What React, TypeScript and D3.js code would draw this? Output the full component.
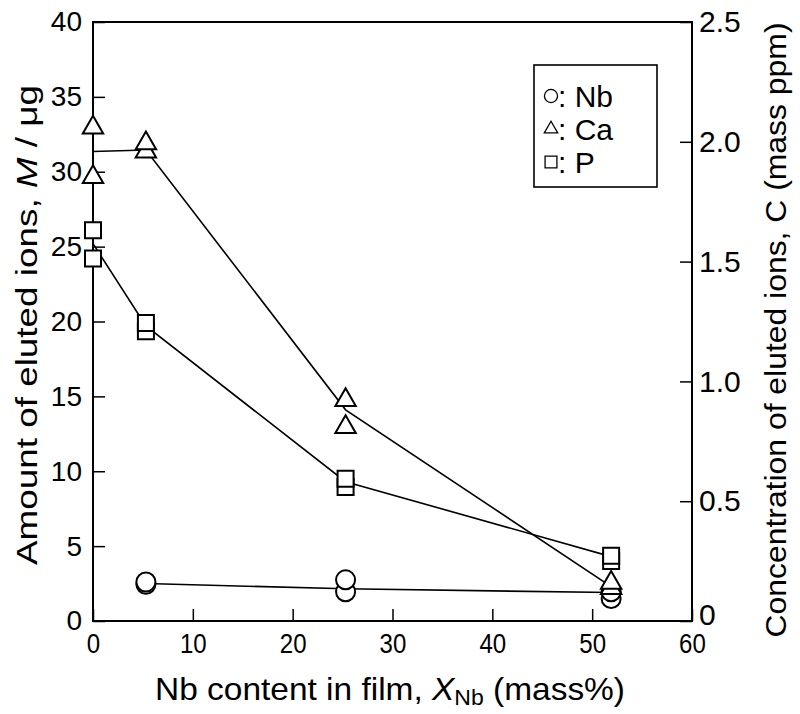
import React, { useEffect, useRef } from "react";
import * as d3 from "d3";

// values
const nbX = [5.3, 5.3, 25.3, 25.3, 51.9, 51.9];
const nbM = [2.45, 2.6, 1.95, 2.75, 1.5, 1.95];
const caX = [0, 0, 5.3, 5.3, 25.3, 25.3, 51.9, 51.9];
const caM = [29.65, 32.95, 31.35, 31.9, 12.95, 14.75, 2.2, 2.55];
const pX = [0, 0, 5.3, 5.3, 25.3, 25.3, 51.9, 51.9];
const pM = [24.2, 26.1, 19.35, 19.9, 8.95, 9.5, 4.0, 4.35];

// connecting lines (average values)
const nbLineX = [5.3, 25.3, 51.9];
const nbLine = [2.5, 2.15, 1.9];
const caLineX = [0, 5.3, 25.3, 51.9];
const caLine = [31.35, 31.45, 14.1, 2.3];
const pLineX = [0, 5.3, 25.3, 51.9];
const pLine = [25.2, 19.7, 9.3, 4.3];

const xTicks = [0, 10, 20, 30, 40, 50, 60];
const yLeftTicks = [0, 5, 10, 15, 20, 25, 30, 35, 40];
const yRightTicks = [0, 0.5, 1.0, 1.5, 2.0, 2.5];
const legendLabels = ["Nb", "Ca", "P"];

const FONT = "'Liberation Sans', Arial, sans-serif";

export default function App() {
  const ref = useRef<SVGSVGElement>(null);

  useEffect(() => {
    document.body.style.margin = "0";
    const svg = d3.select(ref.current);
    svg.selectAll("*").remove();

    const left = 93, right = 692, top = 22, bottom = 621;
    const x = d3.scaleLinear().domain([0, 60]).range([left, right]);
    const yL = d3.scaleLinear().domain([0, 40]).range([bottom, top]);
    const yR = d3.scaleLinear().domain([0, 2.5]).range([bottom, top]);

    // x axis
    const gx = svg.append("g").attr("transform", `translate(0,${bottom})`)
      .call(d3.axisBottom(x).tickValues(xTicks).tickSizeInner(-12).tickSizeOuter(0).tickPadding(12).tickFormat(d3.format("d")));
    gx.select(".domain").remove();
    gx.selectAll(".tick line").attr("stroke", "#000").attr("stroke-width", 1.5);
    gx.selectAll(".tick text").attr("font-family", FONT).attr("font-size", 28)
      .attr("fill", "#000").attr("transform", "scale(0.86,1)");

    // left axis
    const gl = svg.append("g").attr("transform", `translate(${left},0)`)
      .call(d3.axisLeft(yL).tickValues(yLeftTicks).tickSizeInner(-12).tickSizeOuter(0).tickPadding(11).tickFormat(d3.format("d")));
    gl.select(".domain").remove();
    gl.selectAll(".tick line").attr("stroke", "#000").attr("stroke-width", 1.5);
    gl.selectAll(".tick text").attr("font-family", FONT).attr("font-size", 28).attr("fill", "#000");

    // right axis
    const gr = svg.append("g").attr("transform", `translate(${right},0)`)
      .call(d3.axisRight(yR).tickValues(yRightTicks).tickSizeInner(-12).tickSizeOuter(0).tickPadding(7)
        .tickFormat(d => (d === 0 ? "0" : d3.format(".1f")(d as number))));
    gr.select(".domain").remove();
    gr.selectAll(".tick line").attr("stroke", "#000").attr("stroke-width", 1.5);
    gr.selectAll(".tick text").attr("font-family", FONT).attr("font-size", 30).attr("fill", "#000");
    gr.selectAll(".tick text").filter(d => d === 0).attr("dy", "0.1em");

    // frame
    svg.append("rect").attr("x", left).attr("y", top)
      .attr("width", right - left).attr("height", bottom - top)
      .attr("fill", "none").attr("stroke", "#000").attr("stroke-width", 2);

    // lines
    const line = d3.line<[number, number]>().x(d => x(d[0])).y(d => yL(d[1]));
    const lines = [
      d3.zip(nbLineX, nbLine),
      d3.zip(caLineX, caLine),
      d3.zip(pLineX, pLine),
    ];
    svg.selectAll(".ln").data(lines).join("path").attr("class", "ln")
      .attr("d", d => line(d as [number, number][]))
      .attr("fill", "none").attr("stroke", "#000").attr("stroke-width", 1.6);

    // markers
    const series = [
      { xs: nbX, ys: nbM, type: d3.symbolCircle, size: 285, small: 135 },
      { xs: caX, ys: caM, type: d3.symbolTriangle, size: 180, small: 78 },
      { xs: pX, ys: pM, type: d3.symbolSquare, size: 256, small: 140 },
    ];
    series.forEach(s => {
      svg.append("g").selectAll("path").data(d3.zip(s.xs, s.ys)).join("path")
        .attr("transform", d => `translate(${x(d[0])},${yL(d[1])})`)
        .attr("d", d3.symbol(s.type, s.size)())
        .attr("fill", "#fff").attr("stroke", "#000").attr("stroke-width", 2);
    });

    // legend
    const lg = svg.append("g");
    lg.append("rect").attr("x", 534).attr("y", 65).attr("width", 123).attr("height", 122)
      .attr("fill", "#fff").attr("stroke", "#000").attr("stroke-width", 1.6);
    legendLabels.forEach((lab, i) => {
      const cy = 96 + i * 33;
      lg.append("path").attr("transform", `translate(551,${cy})`)
        .attr("d", d3.symbol(series[i].type, series[i].small)())
        .attr("fill", "none").attr("stroke", "#000").attr("stroke-width", 1.3);
      lg.append("text").attr("x", 558).attr("y", cy + 10.5)
        .attr("font-family", FONT).attr("font-size", 30).text(": " + lab);
    });

    // x title
    const xt = svg.append("text").attr("x", 155).attr("y", 700)
      .attr("font-family", FONT).attr("font-size", 32)
      .attr("textLength", 470).attr("lengthAdjust", "spacingAndGlyphs");
    xt.append("tspan").text("Nb content in film, ");
    xt.append("tspan").attr("font-style", "italic").text("X");
    xt.append("tspan").attr("font-size", 22).attr("dy", 5).text("Nb");
    xt.append("tspan").attr("dy", -5).text(" (mass%)");

    // left title
    const lt = svg.append("text")
      .attr("transform", `translate(37,325) rotate(-90)`)
      .attr("text-anchor", "middle").attr("font-family", FONT).attr("font-size", 30)
      .attr("textLength", 480).attr("lengthAdjust", "spacingAndGlyphs");
    lt.append("tspan").text("Amount of eluted ions, ");
    lt.append("tspan").attr("font-style", "italic").text("M");
    lt.append("tspan").text(" / μg");

    // right title
    svg.append("text")
      .attr("transform", `translate(786,330) rotate(-90)`)
      .attr("text-anchor", "middle").attr("font-family", FONT).attr("font-size", 29)
      .attr("textLength", 615).attr("lengthAdjust", "spacingAndGlyphs")
      .text("Concentration of eluted ions, C (mass ppm)");
  }, []);

  return <svg ref={ref} width={800} height={714} style={{ display: "block", background: "#fff" }} />;
}
